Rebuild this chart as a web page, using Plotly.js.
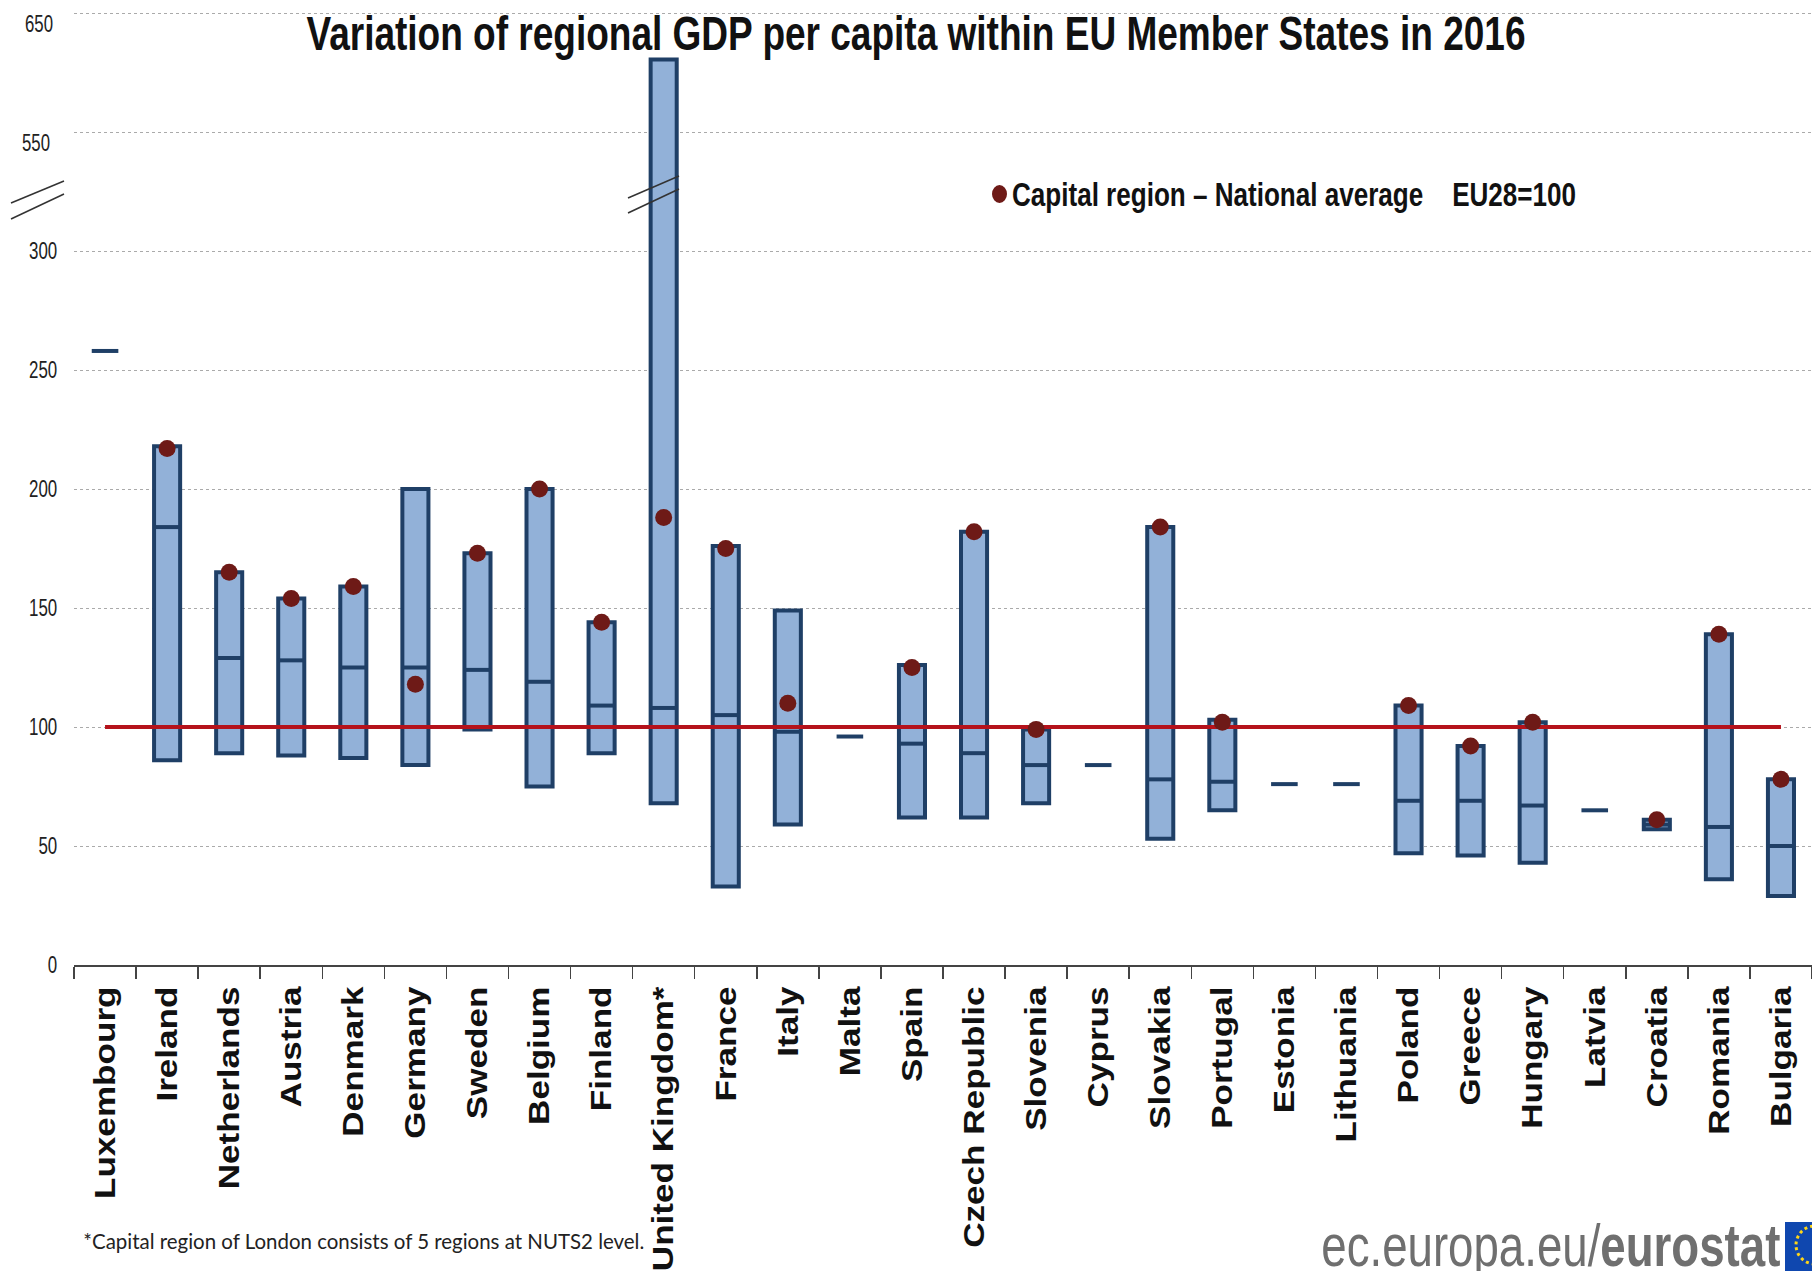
<!DOCTYPE html>
<html>
<head>
<meta charset="utf-8">
<script src="https://cdn.plot.ly/plotly-3.0.1.min.js"></script>
<style>html,body{margin:0;padding:0;background:#fff;overflow:hidden}</style>
</head>
<body>
<div id="chart" style="width:1812px;height:1271px"></div>
<script>
const countries = ["Luxembourg","Ireland","Netherlands","Austria","Denmark","Germany","Sweden","Belgium","Finland","United Kingdom*","France","Italy","Malta","Spain","Czech Republic","Slovenia","Cyprus","Slovakia","Portugal","Estonia","Lithuania","Poland","Greece","Hungary","Latvia","Croatia","Romania","Bulgaria"];
const regionMin = [null,86,89,88,87,84,99,75,89,68,33,59,null,62,62,68,null,53,65,null,null,47,46,43,null,57,36,29];
const regionMax = [null,218,165,154,159,200,173,200,144,611,176,149,null,126,182,99,null,184,103,null,null,109,92,102,null,61,139,78];
const nationalAvg = [258,184,129,128,125,125,124,119,109,108,105,98,96,93,89,84,84,78,77,76,76,69,69,67,65,59,58,50];
const capitalRegion = [null,217,165,154,159,118,173,200,144,188,175,110,null,125,182,99,null,184,102,null,null,109,92,102,null,61,139,78];
const euAverage = [100,100];
const euEnds = ["Luxembourg","Bulgaria"];
const yTickVals = [0,50,100,150,200,250,300,350,400];
const yTickText = ["0","50","100","150","200","250","300","",""];
const brokenLabels = [["550",350,36],["650",400,39]];

// the value axis is broken: 300 is followed by 550, at half scale
const toAxis = v => v === null ? null : (v <= 300 ? v : 350 + (v - 550) / 2);

const W = 1812, H = 1271, L = 74, T = 8, B = 965;
const px = x => (x - L) / (W - L);
const py = y => (B - y) / (B - T);
const arial = '"Liberation Sans",Arial,sans-serif';

const hasBar = regionMin.map(v => v !== null);
const traces = [
  { type:'bar', x:countries.filter((c,i)=>hasBar[i]),
    base:regionMin.filter(v=>v!==null).map(toAxis),
    y:regionMax.map((v,i)=>v===null?null:toAxis(v)-toAxis(regionMin[i])).filter(v=>v!==null),
    width:0.42, marker:{color:'#92B1D8',line:{color:'#1F3F66',width:4}}, hoverinfo:'skip' },
  { type:'scatter', mode:'lines', x:euEnds, y:euAverage, line:{color:'#B5121B',width:4}, hoverinfo:'skip' },
  { type:'scatter', mode:'markers', x:countries, y:nationalAvg.map(toAxis),
    marker:{symbol:'line-ew',size:19,line:{color:'#1F3F66',width:4}}, hoverinfo:'skip' },
  { type:'scatter', mode:'markers', x:countries, y:capitalRegion.map(toAxis),
    marker:{symbol:'circle',size:17,color:'#6E1A17'}, hoverinfo:'skip' }
];

const slash = (x0,y0,x1,y1) => ({type:'line',xref:'paper',yref:'paper',x0:px(x0),y0:py(y0),x1:px(x1),y1:py(y1),line:{color:'#333',width:1.5}});
const shapes = [
  slash(11,203,64,181), slash(11,219,64,194),
  slash(628,198,679,176), slash(628,213,679,189),
  {type:'circle',xref:'paper',yref:'paper',x0:px(992),x1:px(1007),y0:py(185),y1:py(203),fillcolor:'#6E1A17',line:{width:0}},
  {type:'rect',xref:'paper',yref:'paper',x0:px(1785),x1:px(1812),y0:py(1222),y1:py(1271),fillcolor:'#0F47AF',line:{width:0}},
  {type:'circle',xref:'paper',yref:'paper',x0:px(1796),x1:px(1834),y0:py(1226),y1:py(1264),line:{color:'#FFD617',width:3,dash:'dot'}}
];

const ann = (text,cx,cy,size,color,weight,family) => ({text,xref:'paper',yref:'paper',x:px(cx),y:py(cy),xanchor:'center',yanchor:'middle',showarrow:false,font:{family:family||arial,size,color,weight:weight||'normal'}});
const annotations = [
  ...brokenLabels.map(([t,v,cx]) => ({text:t,xref:'paper',yref:'y',x:px(cx),y:v,xanchor:'center',yanchor:'middle',yshift:-10,showarrow:false,font:{family:arial,size:24,color:'#222'}})),
  ann('Capital region – National average\u00a0\u00a0\u00a0\u00a0EU28=100',1294,194,34,'#111','bold'),
  ann('*Capital region of London consists of 5 regions at NUTS2 level.',363.5,1240,22,'#222','normal','Lato,sans-serif'),
  ann('ec.europa.eu/<b>eurostat</b>',1550.5,1245,60,'#6f6f6f','normal')
];
// widths in pixels that each text occupies in the reference, which uses condensed lettering
const annotationWidths = [28,28,564,561,459];

const layout = {
  width:W, height:H, paper_bgcolor:'#fff', plot_bgcolor:'#fff', showlegend:false, bargap:0,
  margin:{l:L,r:0,t:T,b:H-B,pad:0},
  title:{text:'Variation of regional GDP per capita within EU Member States in 2016',
    x:916/W,xref:'container',xanchor:'center',y:1-33/H,yref:'container',yanchor:'middle',
    font:{family:arial,size:48,color:'#111',weight:'bold'}},
  xaxis:{type:'category',categoryorder:'array',categoryarray:countries,range:[-0.5,27.5],
    tickmode:'linear',dtick:1,tick0:0,tickson:'boundaries',ticks:'outside',ticklen:12,tickwidth:1.5,tickcolor:'#444',
    ticklabelstandoff:8,tickangle:-90,showline:true,linecolor:'#444',linewidth:1.5,showgrid:false,zeroline:false,
    tickfont:{family:arial,size:30,color:'#111',weight:'bold'}},
  yaxis:{range:[0,(B-T)/2.38],tickmode:'array',tickvals:yTickVals,ticktext:yTickText,
    showgrid:true,gridcolor:'#aaaaaa',griddash:'dot',gridwidth:1,zeroline:false,showline:false,
    ticks:'outside',ticklen:11,tickcolor:'rgba(0,0,0,0)',
    tickfont:{family:arial,size:24,color:'#222'}},
  shapes:shapes, annotations:annotations
};
const fit = (el,len) => { el.setAttribute('textLength',len); el.setAttribute('lengthAdjust','spacingAndGlyphs'); };
Plotly.newPlot('chart',traces,layout,{displayModeBar:false,staticPlot:true}).then(gd => {
  fit(gd.querySelector('.gtitle'),1219);
  gd.querySelectorAll('.annotation-text').forEach((el,i) => fit(el,annotationWidths[i]));
  gd.querySelectorAll('.ytick text').forEach(el => { if (el.textContent) fit(el,el.textContent.length*9.4); });
  gd.querySelectorAll('.xtick text').forEach(el => fit(el,el.getComputedTextLength()*1.17));
});
</script>
</body>
</html>
